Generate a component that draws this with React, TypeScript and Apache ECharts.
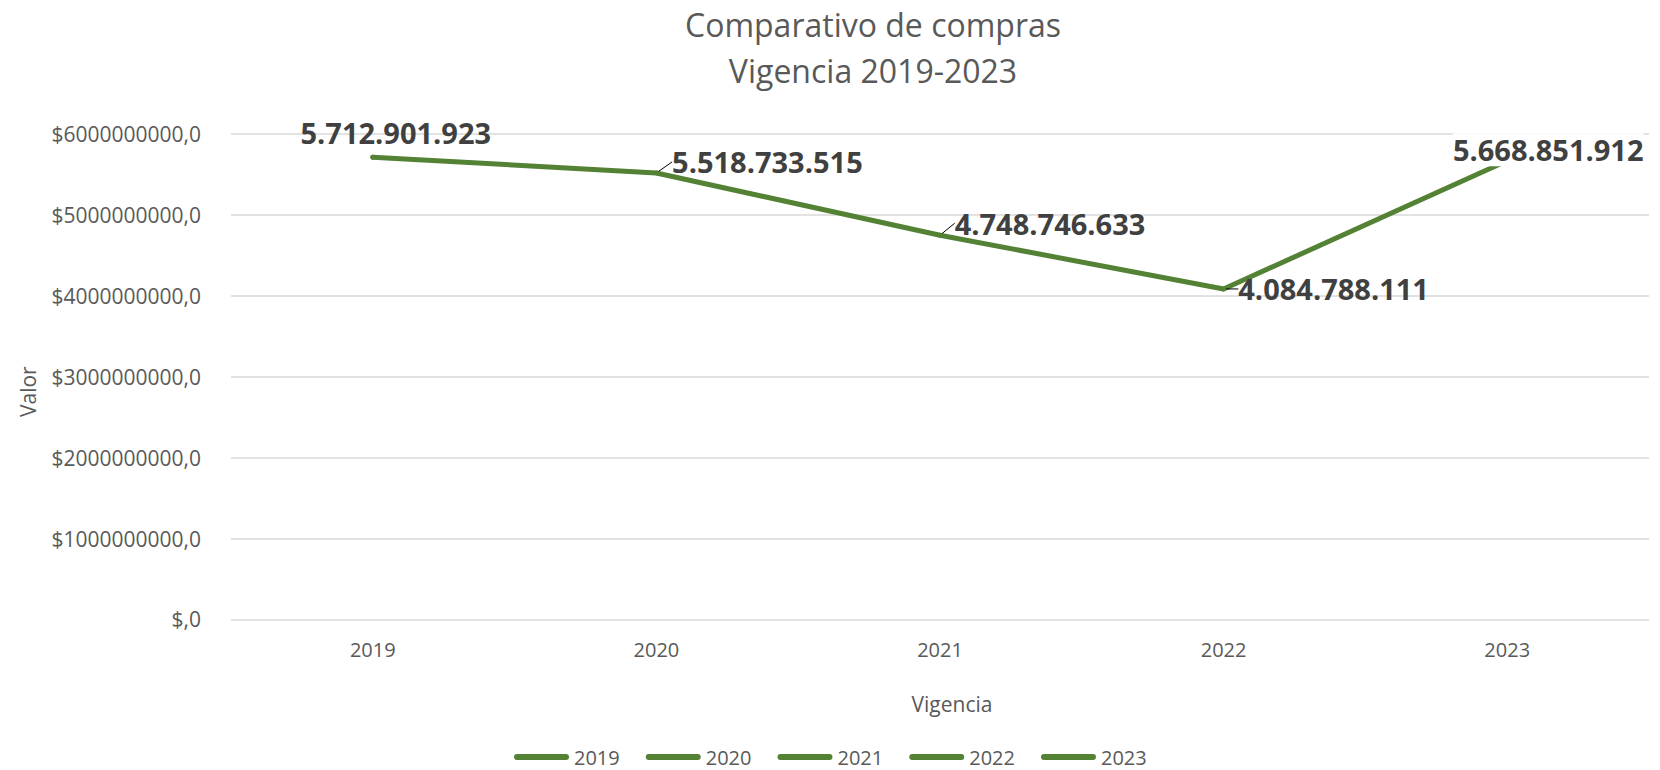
import React, { useEffect, useRef } from "react";
import * as echarts from "echarts";

const categories = ["2019", "2020", "2021", "2022", "2023"];
const values = [5712901923, 5518733515, 4748746633, 4084788111, 5668851912];
const yTicks = { min: 0, max: 6000000000, interval: 1000000000 };

// label layout offsets (px) relative to each point
const labelDx = [23, 111, 110, 110, 41];
const labelDy = [-25, -11, -12, 0, -11];
const leader = [false, true, true, true, false];

const FONT = "'Open Sans', 'Noto Sans', sans-serif";
const GREEN = "#548235";
const TEXT = "#595959";

const fmtDots = (v: number) =>
  Math.round(v).toString().replace(/\B(?=(\d{3})+(?!\d))/g, ".");

export default function App() {
  const ref = useRef<HTMLDivElement>(null);
  useEffect(() => {
    if (!ref.current) return;
    const chart = echarts.init(ref.current, undefined, { renderer: "svg" });
    const capsule =
      "path://M3,0 L52,0 A3,3 0 0 1 52,6 L3,6 A3,3 0 0 1 3,0 Z";
    chart.setOption({
      animation: false,
      backgroundColor: "#ffffff",
      title: {
        text: "Comparativo de compras\nVigencia 2019-2023",
        left: 873,
        top: 1,
        padding: 0,
        textAlign: "center",
        textStyle: {
          fontFamily: FONT,
          fontSize: 32,
          fontWeight: "normal",
          color: TEXT,
          lineHeight: 46,
          align: "center",
        },
      },
      grid: { left: 231, right: 11, top: 134, bottom: 150.6, containLabel: false },
      legend: {
        data: categories,
        left: 514,
        top: 747,
        padding: 0,
        itemWidth: 55,
        itemHeight: 6,
        itemGap: 26,
        icon: capsule,
        textStyle: { fontFamily: FONT, fontSize: 20, color: TEXT, lineHeight: 20 },
      },
      xAxis: {
        type: "category",
        data: categories,
        boundaryGap: true,
        name: "Vigencia",
        nameLocation: "middle",
        nameGap: 73,
        nameTextStyle: {
          fontFamily: FONT,
          fontSize: 21,
          color: TEXT,
          lineHeight: 24,
          padding: [0, 0, 0, 24],
        },
        axisLine: { show: false },
        axisTick: { show: false },
        axisLabel: { fontFamily: FONT, fontSize: 20, color: TEXT, margin: 20 },
      },
      yAxis: {
        type: "value",
        min: yTicks.min,
        max: yTicks.max,
        interval: yTicks.interval,
        name: "Valor",
        nameLocation: "middle",
        nameRotate: 90,
        nameGap: 191,
        nameTextStyle: {
          fontFamily: FONT,
          fontSize: 21,
          color: TEXT,
          lineHeight: 24,
          padding: [0, 30, 0, 0],
        },
        axisLabel: {
          fontFamily: FONT,
          fontSize: 21,
          color: TEXT,
          margin: 30,
          formatter: (v: number) => "$" + (v === 0 ? "" : String(v)) + ",0",
        },
        splitLine: { lineStyle: { color: "#d9d9d9", width: 1.5 } },
      },
      series: [
        {
          name: "Valor",
          type: "line",
          data: values.map((v, i) => ({
            value: v,
            labelLine: { show: leader[i] },
            label:
              i === values.length - 1
                ? { backgroundColor: "#ffffff", padding: [0, 0, 3, 0] }
                : {},
          })),
          symbol: "circle",
          symbolSize: 5,
          showSymbol: true,
          color: GREEN,
          itemStyle: { color: GREEN, borderWidth: 0 },
          lineStyle: { color: GREEN, width: 5, cap: "round", join: "round" },
          label: {
            show: true,
            position: "inside",
            formatter: (p: any) => fmtDots(p.value),
            fontFamily: FONT,
            fontSize: 29,
            fontWeight: "bold",
            color: "#404040",
            lineHeight: 30,
          },
          labelLine: { show: true, lineStyle: { color: "#000000", width: 1 } },
          labelLayout: (p: any) => {
            const i = p.dataIndex;
            const dx = labelDx[i];
            const dy = labelDy[i];
            const res: any = { dx, dy };
            if (leader[i] && p.rect && p.labelRect) {
              const cx = p.rect.x + p.rect.width / 2;
              const cy = p.rect.y + p.rect.height / 2;
              const lx = p.labelRect.x + dx - 3;
              const ly = p.labelRect.y + p.labelRect.height / 2 + dy - 5;
              res.labelLinePoints = [
                [cx, cy],
                [cx, Math.min(cy, ly)],
                [lx, Math.min(cy, ly)],
              ];
            }
            return res;
          },
          z: 3,
        },
        ...categories.map((c) => ({
          name: c,
          type: "line",
          data: [],
          color: GREEN,
          lineStyle: { color: GREEN, width: 5 },
        })),
      ],
    });
    return () => chart.dispose();
  }, []);
  return (
    <div
      ref={ref}
      style={{ position: "fixed", left: 0, top: 0, width: 1660, height: 770 }}
    />
  );
}
